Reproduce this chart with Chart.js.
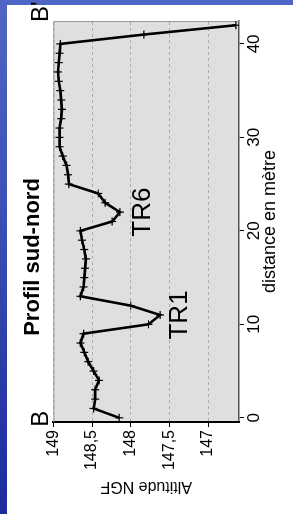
<!DOCTYPE html>
<html>
<head>
<meta charset="utf-8">
<script src="https://cdn.jsdelivr.net/npm/chart.js@4.4.1/dist/chart.umd.min.js"></script>
<style>
  html, body { margin: 0; padding: 0; }
  body {
    width: 293px; height: 514px; overflow: hidden; position: relative;
    background: linear-gradient(to bottom, #5066c4 0%, #3a4db5 45%, #1b2b9c 100%);
  }
  #sheet { position: absolute; left: 7px; top: 5px; width: 286px; height: 509px; background: #fff; }
  /* the chart is drawn upright, then turned a quarter turn like in the slide */
  #wrap {
    position: absolute; left: 7px; top: 514px; width: 514px; height: 286px;
    transform-origin: 0 0; transform: rotate(-90deg);
  }
</style>
</head>
<body>
<div id="sheet"></div>
<div id="wrap"><canvas id="profil" width="514" height="286"></canvas></div>
<script>
// profil sud-nord : distance (m) / altitude NGF (m)
const distances = [0, 1, 2, 3, 4, 5, 6, 7, 8, 9, 10, 11, 12, 13, 14, 15, 16, 17, 18, 19, 20,
  21, 22, 23, 24, 25, 26, 27, 28, 29, 30, 31, 32, 33, 34, 35, 36, 37, 38, 39, 40, 41, 42];
const altitudes = [148.15, 148.48, 148.46, 148.46, 148.41, 148.48, 148.55, 148.60, 148.65, 148.61, 147.77,
  147.62, 148.00, 148.65, 148.61, 148.60, 148.59, 148.58, 148.60, 148.63, 148.65,
  148.24, 148.14, 148.33, 148.42, 148.80, 148.81, 148.83, 148.88, 148.92, 148.92,
  148.92, 148.90, 148.89, 148.90, 148.91, 148.93, 148.94, 148.93, 148.92, 148.91, 147.83, 146.64];
const distanceTicks = [0, 10, 20, 30, 40];
const altitudeTicks = [149, 148.5, 148, 147.5, 147];

const FONT = "'Liberation Sans', Arial, sans-serif";

const plotBg = {
  id: 'plotBg',
  beforeDraw(chart) {
    const a = chart.chartArea, ctx = chart.ctx;
    ctx.save();
    ctx.fillStyle = '#dfdfdf';
    ctx.fillRect(a.left, a.top, a.right - a.left, a.bottom - a.top);
    ctx.restore();
  },
  beforeDatasetsDraw(chart) {
    const a = chart.chartArea, ctx = chart.ctx;
    ctx.save();
    ctx.strokeStyle = '#9a9a9a';
    ctx.lineWidth = 1;
    ctx.beginPath();
    ctx.moveTo(a.left, a.top + 0.5);
    ctx.lineTo(a.right - 0.5, a.top + 0.5);
    ctx.lineTo(a.right - 0.5, a.bottom);
    ctx.stroke();
    ctx.restore();
  }
};

// repères du profil (TR1, TR6, B, B')
const marks = {
  id: 'marks',
  afterDraw(chart) {
    const ctx = chart.ctx, xs = chart.scales.x, ys = chart.scales.y;
    ctx.save();
    ctx.fillStyle = '#000';
    ctx.textBaseline = 'middle';
    ctx.font = '26px ' + FONT;
    ctx.textAlign = 'center';
    ctx.fillText('TR1', xs.getPixelForValue(11.0), ys.getPixelForValue(147.36));
    ctx.fillText('TR6', xs.getPixelForValue(22.0), ys.getPixelForValue(147.85));
    ctx.font = '24px ' + FONT;
    ctx.textAlign = 'left';
    ctx.fillText('B', xs.getPixelForValue(-0.96), ys.getPixelForValue(149.15));
    ctx.fillText("B'", xs.getPixelForValue(42.35), ys.getPixelForValue(149.15));
    ctx.restore();
  }
};

new Chart(document.getElementById('profil'), {
  type: 'scatter',
  data: {
    datasets: [{
      data: distances.map((d, i) => ({ x: d, y: altitudes[i] })),
      showLine: true,
      borderColor: '#000',
      borderWidth: 2.6,
      tension: 0,
      pointStyle: 'cross',
      pointRadius: 4,
      pointBorderWidth: 1.2,
      pointBorderColor: '#000',
      pointBackgroundColor: '#000'
    }]
  },
  options: {
    responsive: false,
    animation: false,
    layout: { padding: { left: 21, right: 21, top: 0, bottom: 0 } },
    plugins: {
      legend: { display: false },
      tooltip: { enabled: false },
      title: {
        display: true,
        text: 'Profil sud-nord',
        color: '#000',
        font: { family: FONT, size: 22, weight: 'bold' },
        padding: { top: 13, bottom: 7 }
      }
    },
    scales: {
      x: {
        type: 'linear',
        min: -0.45,
        max: 42.45,
        afterBuildTicks: s => { s.ticks = distanceTicks.map(v => ({ value: v })); },
        afterFit: s => { s.height = 54; },
        ticks: { color: '#000', padding: 0, maxRotation: 0, font: { family: FONT, size: 17 } },
        grid: { drawOnChartArea: false, drawTicks: true, tickLength: 5, tickColor: '#000', tickWidth: 1 },
        border: { color: '#555', width: 1.5 },
        title: {
          display: true,
          text: 'distance en mètre',
          color: '#000',
          font: { family: FONT, size: 18 },
          padding: { top: 0, bottom: 12 }
        }
      },
      y: {
        type: 'linear',
        min: 146.6,
        max: 149,
        afterBuildTicks: s => { s.ticks = altitudeTicks.map(v => ({ value: v })); },
        afterFit: s => { s.width = 71; },
        ticks: {
          color: '#000', padding: 3,
          font: { family: FONT, size: 16 },
          callback: v => String(v).replace('.', ',')
        },
        grid: {
          color: '#ababab', lineWidth: 1,
          tickLength: 5, tickColor: '#000', tickWidth: 1, tickBorderDash: []
        },
        border: { color: '#000', width: 2, dash: [3, 3] },
        title: {
          display: true,
          text: 'Altitude NGF',
          color: '#000',
          font: { family: FONT, size: 16, lineHeight: 1 },
          padding: { top: -1, bottom: 0 }
        }
      }
    }
  },
  plugins: [plotBg, marks]
});
</script>
</body>
</html>
